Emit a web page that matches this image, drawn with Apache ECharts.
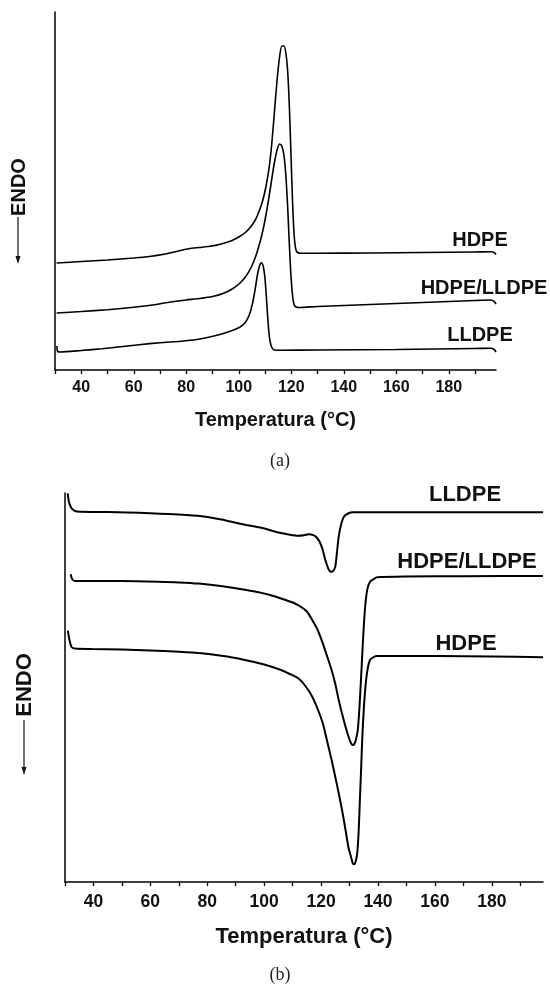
<!DOCTYPE html>
<html>
<head>
<meta charset="utf-8">
<script src="https://cdn.jsdelivr.net/npm/echarts@6/dist/echarts.min.js"></script>
<style>
html,body{margin:0;padding:0;background:#fff;}
#chart{width:550px;height:987px;}
</style>
</head>
<body>
<div id="chart"></div>
<script>
// ---- Axis ticks / labels (°C) ----
const tempTicks = [30,40,50,60,70,80,90,100,110,120,130,140,150,160,170,180,190];
const tempLabels = [40,60,80,100,120,140,160,180];

// ---- (a) Heating curves: [T (°C), heat flow (arb. units)] ----
const heatHDPE = [[30.6,107],[40,108.5],[50,110],[60,112],[66,113.5],[72,116],[77,119],[81,121.3],[85,122.5],[89,123.7],[93,125.8],[97,129],[100,133],[102.5,137.5],[104.5,143],[106.3,150],[107.8,159],[109.2,170],[110.4,184],[111.5,201],[112.5,224],[113.5,255],[114.5,287],[115.5,312],[116.4,324],[117.2,324],[118,316],[118.7,296],[119.3,262],[119.9,215],[120.5,168],[121.1,135],[121.7,121],[122.4,117.5],[124,116.8],[130,116.8],[150,117],[170,117.5],[190,118],[196,118.3],[197.3,117.5],[198,115.5]];
const heatBlend = [[30.6,57],[40,58.5],[50,60.3],[60,62.7],[68,65.3],[74,68],[80,70],[85,71.5],[90,73.5],[94,76.5],[97.5,81],[100.5,87],[102.8,94],[104.8,103],[106.5,114],[108,127],[109.4,142],[110.7,160],[112,181],[113.3,203],[114.5,219],[115.5,226],[116.4,224],[117.2,215],[117.9,196],[118.6,165],[119.2,130],[119.8,98],[120.4,77],[121,66],[121.8,63],[123,62.5],[130,63.5],[150,65.5],[170,67.5],[190,69.5],[196,70],[197.3,68.5],[198,66]];
const heatLLDPE = [[30.7,24],[31,18.5],[32,18],[40,19.5],[48,21.3],[55,23.3],[62,25.3],[70,27.3],[78,28.8],[84,30.5],[89,33],[93.5,36],[97.5,39.5],[100.5,43],[102.5,47.5],[104,55],[105.2,66],[106.2,80],[107.1,95],[107.9,104],[108.6,107.3],[109.3,104],[109.9,94],[110.4,78],[110.9,58],[111.4,40],[111.9,29],[112.6,22.5],[113.6,20],[116,19.8],[130,20],[160,20.5],[190,21.5],[196,21.8],[197.3,20.5],[198,18]];

// ---- (b) Cooling curves: [T (°C), heat flow (arb. units)] ----
const coolLLDPE = [[30.95,388.7],[31.4,380],[32.3,373.7],[33.5,371],[35.3,370.3],[45,370],[52,369.6],[60,368.8],[70,367.5],[78,365.8],[85,362.5],[92,358],[99.7,353.7],[105,349.5],[109,347.3],[112,346.3],[114,346.8],[115.7,347.8],[117.3,346.8],[118.6,344],[119.7,339],[120.6,332],[121.5,322],[122.5,313.7],[123.2,310.5],[123.8,310.2],[124.5,312],[125,315.3],[125.6,330],[126.2,345.3],[127,357],[128,365.3],[129.5,368.5],[131.1,369.7],[140,369.7],[160,369.7],[180,369.7],[198,369.7]];
const coolBlend = [[32,307.7],[32.5,303],[33.5,301],[35,301],[44.6,301],[55,300.8],[62.8,300.3],[70,299.6],[77,298.4],[84,296.2],[91,293.2],[98,289.7],[103,286.3],[107,282.5],[110.5,279],[113,275],[115,270.5],[116.9,262],[118.8,252],[120.6,238.7],[122.2,225],[123.7,212],[125,198],[126.2,182],[127.5,167],[128.6,155.3],[129.8,144],[130.5,139],[131.1,137],[131.7,138],[132.3,143],[132.9,152],[133.5,175],[134.2,212],[134.8,245],[135.4,272],[136.2,292],[137.2,300.3],[138.5,303],[139.7,304.7],[150,305.5],[170,305.8],[198,306]];
const coolHDPE = [[31,251.3],[31.5,243],[32.3,235],[33.5,233.5],[39.4,233],[50,232.5],[60,231.5],[70,230.2],[78,228.7],[85,226.2],[92,222.8],[100,217.5],[105.9,212],[109,208],[112,203.7],[114.5,196],[116.9,185.3],[118.8,173],[120.6,158.7],[122.2,140],[123.7,122],[125,105],[126.2,88.7],[127.5,70],[128.6,52],[129.6,35],[130.5,25.3],[131.1,19],[131.5,17.7],[132,19],[132.7,28.7],[133.2,50],[133.6,79],[134.1,115],[134.5,145.3],[135,172],[135.6,195.3],[136.3,212],[137.2,222],[138.5,225],[139.7,226],[150,226],[161,226],[180,225.5],[198,224.7]];

const FONT = '"Liberation Sans", Arial, sans-serif';
const chart = echarts.init(document.getElementById('chart'), null, {renderer:'canvas'});

function xAxisDef(gi, labelSize, nameSize, nameGap, margin){
  return {
    gridIndex: gi, type:'value', min:30, max:198,
    axisLine:{show:true, lineStyle:{color:'#000', width:1.5}},
    axisTick:{show:true, customValues: tempTicks, length:4, lineStyle:{color:'#000', width:1.3}},
    axisLabel:{customValues: tempLabels, fontFamily:FONT, fontWeight:'bold', fontSize:labelSize, color:'#111', margin: margin},
    splitLine:{show:false},
    name:'Temperatura (°C)', nameLocation:'middle', nameGap: nameGap,
    nameTextStyle:{fontFamily:FONT, fontWeight:'bold', fontSize:nameSize, color:'#111'}
  };
}
function yAxisDef(gi, max){
  return {gridIndex:gi, type:'value', min:0, max:max,
    axisLine:{show:true, lineStyle:{color:'#000', width:1.5}},
    axisTick:{show:false}, axisLabel:{show:false}, splitLine:{show:false}};
}
function lineSeries(data, xi, w){
  return {type:'line', data:data, xAxisIndex:xi, yAxisIndex:xi, showSymbol:false, smooth:0.25,
    lineStyle:{color:'#000', width:w}, silent:true};
}
function label(text, x, y, size){
  return {type:'text', x:x, y:y, style:{text:text, font:'bold '+size+'px '+FONT, fill:'#111', textAlign:'center', textVerticalAlign:'middle'}};
}
function endo(x, yc, arrowTop, arrowBottom, size){
  return [
    {type:'text', x:x, y:yc, rotation:Math.PI/2, style:{text:'ENDO', font:'bold '+size+'px '+FONT, fill:'#111', textAlign:'center', textVerticalAlign:'middle'}},
    {type:'line', shape:{x1:x-1, y1:arrowTop, x2:x-1, y2:arrowBottom-6}, style:{stroke:'#111', lineWidth:1.2}},
    {type:'polygon', shape:{points:[[x-3.5,arrowBottom-8],[x+1.5,arrowBottom-8],[x-1,arrowBottom]]}, style:{fill:'#111'}}
  ];
}

chart.setOption({
  animation:false,
  backgroundColor:'#fff',
  grid:[
    {left:55, right:54, top:12, bottom:617},
    {left:65, right:7, top:493, bottom:105}
  ],
  xAxis:[ xAxisDef(0,16,20,40,10), xAxisDef(1,17.5,22,44,11) ],
  yAxis:[ yAxisDef(0,358), yAxisDef(1,389) ],
  series:[
    lineSeries(heatHDPE,0,1.6), lineSeries(heatBlend,0,1.6), lineSeries(heatLLDPE,0,1.6),
    lineSeries(coolLLDPE,1,2), lineSeries(coolBlend,1,2), lineSeries(coolHDPE,1,2)
  ],
  graphic:[
    label('HDPE',480,240,20),
    label('HDPE/LLDPE',484,288,20),
    label('LLDPE',480,335,20),
    label('LLDPE',465,495,22),
    label('HDPE/LLDPE',467,562,22),
    label('HDPE',466,644,22),
    ...endo(19,187,217,264,20),
    ...endo(25,685,720,775,22),
    {type:'text', x:280, y:461, style:{text:'(a)', font:'18px "Liberation Serif", "Times New Roman", serif', fill:'#222', textAlign:'center', textVerticalAlign:'middle'}},
    {type:'text', x:280, y:975, style:{text:'(b)', font:'18px "Liberation Serif", "Times New Roman", serif', fill:'#222', textAlign:'center', textVerticalAlign:'middle'}}
  ]
});
</script>
</body>
</html>
